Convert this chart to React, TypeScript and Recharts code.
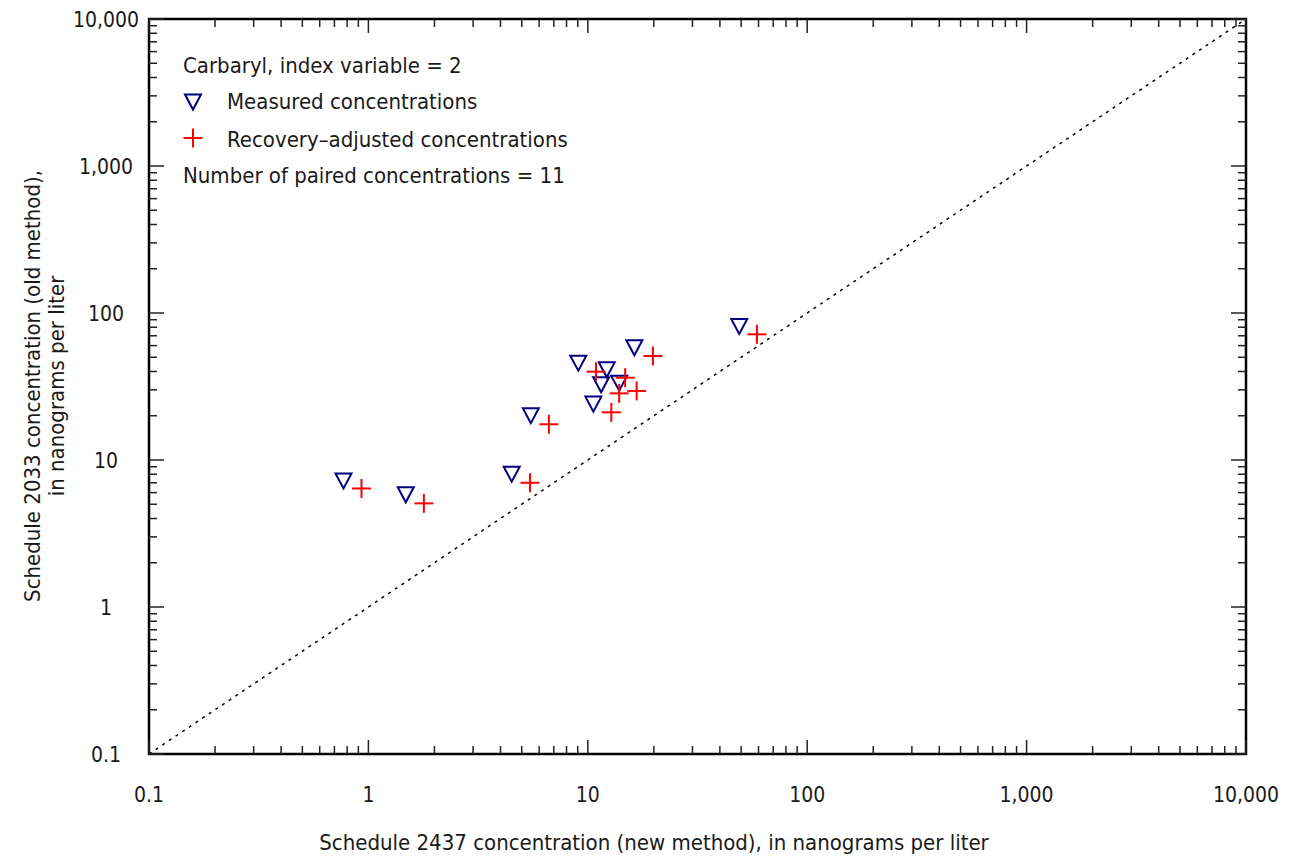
import { ReferenceArea, ReferenceLine, Scatter, ScatterChart, XAxis, YAxis } from 'recharts'

// 폰트 (좁은 산세리프)
const FONT = "'Liberation Sans Narrow', 'DejaVu Sans Condensed', 'Liberation Sans', Arial, sans-serif"

// 측정 농도 (new method, old method)
const measuredNew = [0.77, 1.48, 4.5, 5.5, 9.05, 12.2, 11.5, 13.9, 10.6, 16.3, 49.0]
const measuredOld = [7.2, 5.8, 8.0, 20.0, 45.6, 41.1, 32.5, 33.3, 24.0, 58.0, 81.0]

// 회수율 보정 농도
const adjustedNew = [0.93, 1.79, 5.45, 6.65, 10.9, 14.8, 13.9, 16.7, 12.8, 19.8, 59.0]
const adjustedOld = [6.4, 5.07, 7.0, 17.5, 39.9, 36.3, 28.4, 29.5, 21.1, 51.0, 71.6]

const majorTicks = [0.1, 1, 10, 100, 1000, 10000]
const tickLabels = ['0.1', '1', '10', '100', '1,000', '10,000']
const minorSteps = [2, 3, 4, 5, 6, 7, 8, 9]

const W = 1292
const H = 860
const PLOT_LEFT = 149
const PLOT_TOP = 19
const PLOT_RIGHT = 1246
const PLOT_BOTTOM = 754

const NAVY = '#000080'
const RED = '#ff0000'
const TEXT = '#1a1a1a'

const allTicks = [
  ...majorTicks,
  ...majorTicks.slice(0, -1).flatMap((d) => minorSteps.map((m) => Number((m * d).toPrecision(3)))),
].sort((a, b) => a - b)

const measuredData = measuredNew.map((x, i) => ({ x, y: measuredOld[i] }))
const adjustedData = adjustedNew.map((x, i) => ({ x, y: adjustedOld[i] }))

const labelFor = (v: number) => {
  const i = majorTicks.indexOf(v)
  return i >= 0 ? tickLabels[i] : null
}

// x축 눈금: 아래/위 안쪽으로 그림
const XTick = (props: { x?: number; payload?: { value: number } }) => {
  const x = props.x ?? 0
  const v = props.payload?.value ?? 0
  const label = labelFor(v)
  const len = label ? 14 : 8
  return (
    <g>
      <line x1={x} x2={x} y1={PLOT_BOTTOM} y2={PLOT_BOTTOM - len} stroke="#222" strokeWidth={1.5} />
      <line x1={x} x2={x} y1={PLOT_TOP} y2={PLOT_TOP + len} stroke="#222" strokeWidth={1.5} />
      {label && (
        <text x={x} y={802} textAnchor="middle" fontSize={21} fontFamily={FONT} fill={TEXT}>
          {label}
        </text>
      )}
    </g>
  )
}

// y축 눈금: 왼쪽/오른쪽 안쪽으로 그림
const YTick = (props: { y?: number; payload?: { value: number } }) => {
  const y = props.y ?? 0
  const v = props.payload?.value ?? 0
  const label = labelFor(v)
  const len = label ? 15 : 8
  return (
    <g>
      <line x1={PLOT_LEFT} x2={PLOT_LEFT + len} y1={y} y2={y} stroke="#222" strokeWidth={1.5} />
      <line x1={PLOT_RIGHT} x2={PLOT_RIGHT - len} y1={y} y2={y} stroke="#222" strokeWidth={1.5} />
      {label && (
        <text x={106} y={y + 7.5} textAnchor="middle" fontSize={21} fontFamily={FONT} fill={TEXT}>
          {label}
        </text>
      )}
    </g>
  )
}

const Triangle = (props: { cx?: number; cy?: number }) => {
  const { cx = 0, cy = 0 } = props
  return (
    <polygon
      points={`${cx - 8},${cy - 7.5} ${cx + 8},${cy - 7.5} ${cx},${cy + 7.5}`}
      fill="none"
      stroke={NAVY}
      strokeWidth={2}
    />
  )
}

const Plus = (props: { cx?: number; cy?: number }) => {
  const { cx = 0, cy = 0 } = props
  return (
    <g stroke={RED} strokeWidth={2}>
      <line x1={cx - 9.5} x2={cx + 9.5} y1={cy} y2={cy} />
      <line x1={cx} x2={cx} y1={cy - 9.5} y2={cy + 9.5} />
    </g>
  )
}

export default function App() {
  return (
    <div style={{ position: 'absolute', left: 0, top: 0, width: W, height: H, background: '#fff' }}>
      <ScatterChart
        width={W}
        height={H}
        margin={{ top: PLOT_TOP, right: W - PLOT_RIGHT, left: 0, bottom: 0 }}
      >
        <XAxis
          type="number"
          dataKey="x"
          scale="log"
          domain={[0.1, 10000]}
          allowDataOverflow
          ticks={allTicks}
          interval={0}
          height={H - PLOT_BOTTOM}
          axisLine={false}
          tickLine={false}
          tick={<XTick />}
        />
        <YAxis
          type="number"
          dataKey="y"
          scale="log"
          domain={[0.1, 10000]}
          allowDataOverflow
          ticks={allTicks}
          interval={0}
          width={PLOT_LEFT}
          axisLine={false}
          tickLine={false}
          tick={<YTick />}
        />
        <ReferenceLine
          segment={[
            { x: 0.1, y: 0.1 },
            { x: 10000, y: 10000 },
          ]}
          stroke="#000"
          strokeWidth={1.5}
          strokeDasharray="3 5"
        />
        <ReferenceArea x1={0.1} x2={10000} y1={0.1} y2={10000} fill="none" stroke="#000" strokeWidth={2.5} />
        <Scatter data={measuredData} shape={<Triangle />} isAnimationActive={false} />
        <Scatter data={adjustedData} shape={<Plus />} isAnimationActive={false} />
      </ScatterChart>

      {/* 범례와 축 제목 */}
      <svg
        width={W}
        height={H}
        style={{ position: 'absolute', left: 0, top: 0, pointerEvents: 'none' }}
        fontFamily={FONT}
        fontSize={22}
        fill={TEXT}
      >
        <text x={183} y={73}>Carbaryl, index variable = 2</text>
        <polygon points="185,94.5 201,94.5 193,109.5" fill="none" stroke={NAVY} strokeWidth={2} />
        <text x={227} y={109}>Measured concentrations</text>
        <g stroke={RED} strokeWidth={2}>
          <line x1={183.5} x2={202.5} y1={138} y2={138} />
          <line x1={193} x2={193} y1={128.5} y2={147.5} />
        </g>
        <text x={227} y={147}>Recovery–adjusted concentrations</text>
        <text x={183} y={183}>Number of paired concentrations = 11</text>

        <text x={654} y={850} textAnchor="middle">
          Schedule 2437 concentration (new method), in nanograms per liter
        </text>
        <g transform="translate(40, 386) rotate(-90)">
          <text x={0} y={0} textAnchor="middle">
            Schedule 2033 concentration (old method),
          </text>
          <text x={0} y={24} textAnchor="middle">
            in nanograms per liter
          </text>
        </g>
      </svg>
    </div>
  )
}
